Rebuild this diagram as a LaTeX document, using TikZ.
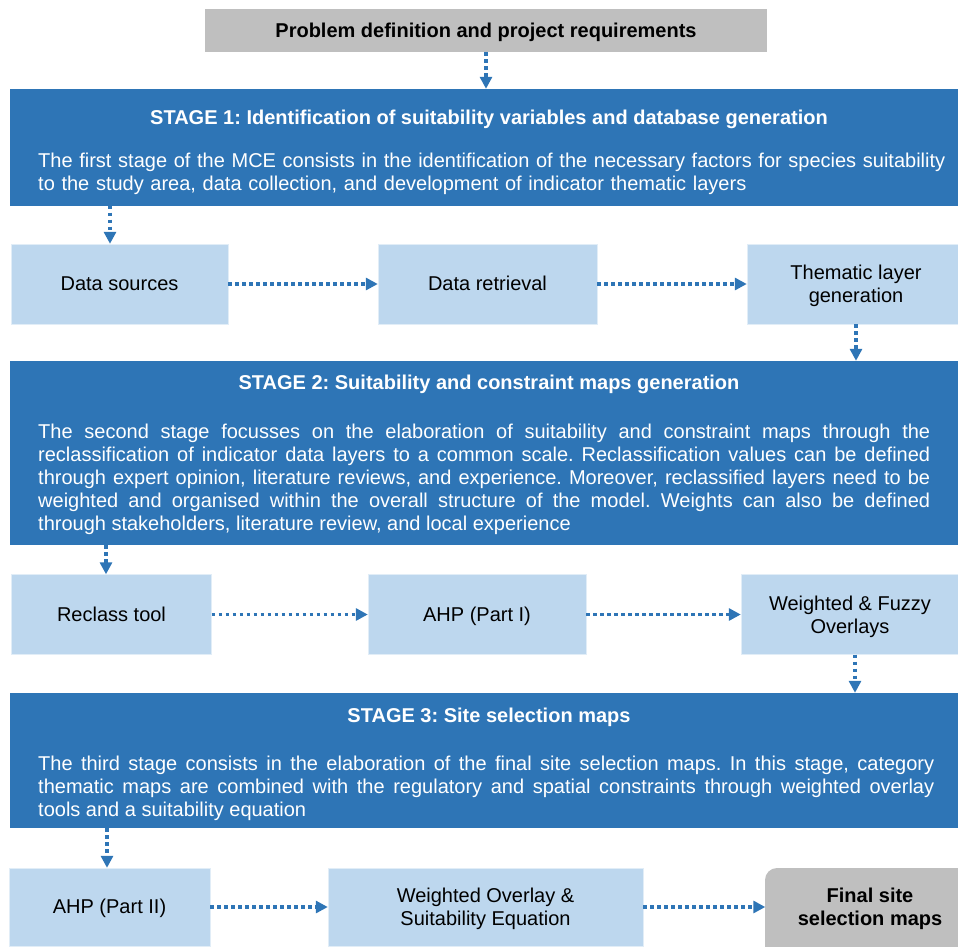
\documentclass[tikz,border=0pt]{standalone}
\usepackage{fontspec}
\setmainfont{Liberation Sans}
\usetikzlibrary{arrows.meta}

\definecolor{stageblue}{HTML}{2E75B6}
\definecolor{boxblue}{HTML}{BDD7EE}
\definecolor{boxgray}{HTML}{BFBFBF}

\frenchspacing
\tolerance=10000
\hbadness=10000
\hyphenpenalty=10000
\exhyphenpenalty=10000

\begin{document}
\begin{tikzpicture}[
  x=1pt, y=-1pt,
  font=\fontsize{20}{23}\selectfont,
  stagebox/.style={fill=stageblue, draw=none, minimum width=958pt, inner sep=0pt},
  stepbox/.style={fill=boxblue, draw=white!55!boxblue, thin, align=center, inner sep=2pt},
  graybox/.style={fill=boxgray, draw=none, align=center, inner sep=2pt},
  oneline/.style={text height=17.8pt, text depth=4.2pt},
  twolines/.style={text height=41.7pt},
  stagetitle/.style={text=white, font=\fontsize{20}{23}\selectfont\bfseries, anchor=base, inner sep=0pt},
  stagetext/.style={text=white, anchor=north west, inner sep=0pt, align=justify},
  flow/.style={draw=stageblue, line width=3.5pt, dash pattern=on 3.5pt off 3.5pt,
    -{Triangle[length=12pt,width=12pt]}}
]
\useasboundingbox (0,0) rectangle (958,946);

% top
\node[graybox, oneline, minimum width=562pt, minimum height=43pt] (problem) at (486,30.5)
  {\bfseries Problem definition and project requirements};

% stage 1
\node[stagebox, minimum height=116.5pt] (stage1) at (489,147.25) {};
\node[stagetitle] (stage1title) at (489,124.3)
  {STAGE 1: Identification of suitability variables and database generation};
\node[stagetext, align=left, text width=912pt] (stage1text) at (38,153)
  {The first stage of the MCE consists in the identification of the necessary factors for species suitability\\
   to the study area, data collection, and development of indicator thematic layers};

\node[stepbox, oneline, minimum width=217pt, minimum height=80pt] (datasrc) at (119.5,284) {Data sources};
\node[stepbox, oneline, minimum width=219pt, minimum height=80pt] (dataret) at (487.5,284) {Data retrieval};
\node[stepbox, twolines, minimum width=218pt, minimum height=80pt] (thematic) at (856,284) {Thematic layer\\generation};

% stage 2
\node[stagebox, minimum height=184pt] (stage2) at (489,453) {};
\node[stagetitle] (stage2title) at (489,389.3)
  {STAGE 2: Suitability and constraint maps generation};
\node[stagetext, text width=892pt] (stage2text) at (38,423.8)
  {The second stage focusses on the elaboration of suitability and constraint maps through the\linebreak
   reclassification of indicator data layers to a common scale. Reclassification values can be defined\linebreak
   through expert opinion, literature reviews, and experience. Moreover, reclassified layers need to be\linebreak
   weighted and organised within the overall structure of the model. Weights can also be defined\linebreak
   through stakeholders, literature review, and local experience};

\node[stepbox, oneline, minimum width=200pt, minimum height=80pt] (reclass) at (111.5,614.5) {Reclass tool};
\node[stepbox, oneline, minimum width=218pt, minimum height=80pt] (ahp1) at (477,614.5) {AHP (Part I)};
\node[stepbox, twolines, minimum width=218pt, minimum height=80pt] (overlays) at (850,614.5) {Weighted \& Fuzzy\\Overlays};

% stage 3
\node[stagebox, minimum height=135pt] (stage3) at (489,760.5) {};
\node[stagetitle] (stage3title) at (489,722.7) {STAGE 3: Site selection maps};
\node[stagetext, text width=896pt] (stage3text) at (38,755.8)
  {The third stage consists in the elaboration of the final site selection maps. In this stage, category\linebreak
   thematic maps are combined with the regulatory and spatial constraints through weighted overlay\linebreak
   tools and a suitability equation};

\node[stepbox, oneline, minimum width=201pt, minimum height=78pt] (ahp2) at (109.5,907) {AHP (Part II)};
\node[stepbox, twolines, minimum width=315pt, minimum height=78pt] (wover) at (485.5,907)
  {Weighted Overlay \&\\Suitability Equation};
\fill[boxgray, rounded corners=12pt] (765,970) -- (765,868) -- (975,868) -- (975,970) -- cycle;
\node[twolines, minimum width=209pt, minimum height=78pt, align=center, inner sep=2pt,
  font=\fontsize{20}{23.6}\selectfont\bfseries] (final) at (870,907) {Final site\\selection maps};

% connectors
\coordinate (drop1) at (110,0);
\coordinate (drop2) at (856,0);
\coordinate (drop3) at (106,0);
\coordinate (drop4) at (855,0);
\coordinate (drop5) at (107,0);

\draw[flow] (problem.south) -- (problem.south |- stage1.north);
\draw[flow] (stage1.south -| drop1) -- (datasrc.north -| drop1);
\draw[flow] (datasrc) -- (dataret);
\draw[flow] (dataret) -- (thematic);
\draw[flow] (thematic.south -| drop2) -- (stage2.north -| drop2);
\draw[flow] (stage2.south -| drop3) -- (reclass.north -| drop3);
\draw[flow] (reclass) -- (ahp1);
\draw[flow] (ahp1) -- (overlays);
\draw[flow] (overlays.south -| drop4) -- (stage3.north -| drop4);
\draw[flow] (stage3.south -| drop5) -- (ahp2.north -| drop5);
\draw[flow] (ahp2) -- (wover);
\draw[flow] (wover) -- (final);

\end{tikzpicture}
\end{document}
